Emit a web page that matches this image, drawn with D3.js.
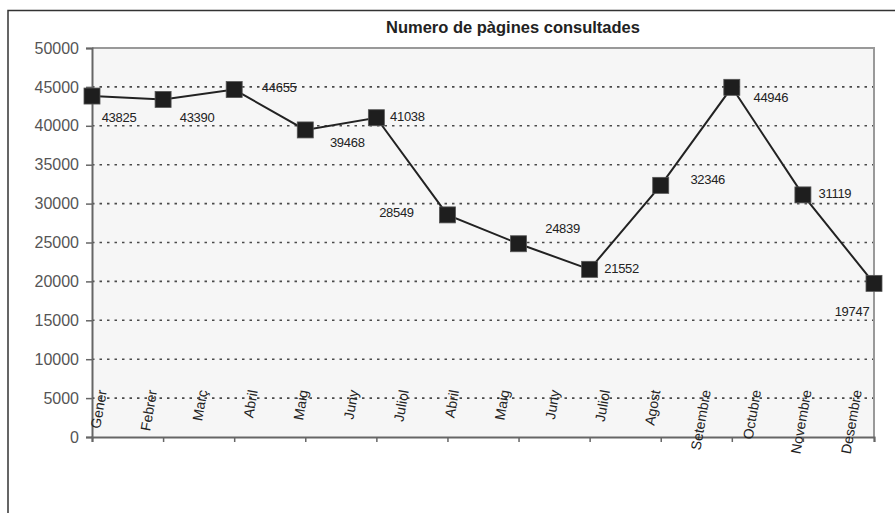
<!DOCTYPE html>
<html>
<head>
<meta charset="utf-8">
<script src="https://cdn.jsdelivr.net/npm/d3@7"></script>
<style>
  html, body { margin: 0; padding: 0; background: #fff; }
  svg { display: block; font-family: Arial, "Liberation Sans", sans-serif; }
</style>
</head>
<body>
<svg id="chart" width="895" height="513"></svg>
<script>
// ---- data ----
const title = "Numero de pàgines consultades";
const months = ["Gener","Febrer","Març","Abril","Maig","Juny","Juliol","Agost","Setembre","Octubre","Novembre","Desembre"];
const values = [43825, 43390, 44655, 39468, 41038, 28549, 24839, 21552, 32346, 44946, 31119, 19747];
const xLabels = ["Gener","Febrer","Març","Abril","Maig","Juny","Juliol","Abril","Maig","Juny","Juliol","Agost","Setembre","Octubre","Novembre","Desembre"];
const yTicks = [0, 5000, 10000, 15000, 20000, 25000, 30000, 35000, 40000, 45000, 50000];
// label offsets (style) for value labels, in px from the marker
const labelOffsets = [[27,21],[34,18],[45,-2],[42,13],[31,-1],[-51,-2],[44,-15],[32,-1],[47,-6],[39,10],[32,-1],[-22,28]];

// ---- layout ----
const W = 895, H = 513;
const plot = { left: 92, right: 874, top: 48, bottom: 437 };
const svg = d3.select("#chart");

// outer frame (extends beyond the visible area on right/bottom)
svg.append("rect").attr("x", 8).attr("y", 10.5).attr("width", W + 20).attr("height", H + 20)
  .attr("fill", "#fff").attr("stroke", "#333").attr("stroke-width", 1.5);

const x = d3.scalePoint().domain(d3.range(months.length)).range([plot.left, plot.right]);
const y = d3.scaleLinear().domain([0, 50000]).range([plot.bottom, plot.top]);
const xl = d3.scalePoint().domain(d3.range(xLabels.length)).range([plot.left + 10, plot.right - 17]);

// plot background
svg.append("rect").attr("x", plot.left).attr("y", plot.top)
  .attr("width", plot.right - plot.left).attr("height", plot.bottom - plot.top)
  .attr("fill", "#f6f6f6");

// gridlines
svg.append("g").selectAll("line").data(yTicks.filter(t => t > 0 && t < 50000)).join("line")
  .attr("x1", plot.left).attr("x2", plot.right)
  .attr("y1", d => y(d)).attr("y2", d => y(d))
  .attr("stroke", "#4a4a4a").attr("stroke-width", 1.6).attr("stroke-dasharray", "2.5,5");

// plot border top & right
svg.append("path")
  .attr("d", `M${plot.left},${plot.top}H${plot.right}V${plot.bottom}`)
  .attr("fill", "none").attr("stroke", "#999").attr("stroke-width", 2);

// y axis
const yAxis = svg.append("g").attr("transform", `translate(${plot.left},0)`)
  .call(d3.axisLeft(y).tickValues(yTicks).tickSize(6).tickPadding(7).tickFormat(d => d));
yAxis.select(".domain").attr("stroke", "#666").attr("stroke-width", 2);
yAxis.selectAll(".tick line").attr("stroke", "#666").attr("stroke-width", 1.5);
yAxis.selectAll(".tick text").attr("fill", "#555").style("font-size", "16px").style("font-family", "Arial, 'Liberation Sans', sans-serif");

// x axis
const xAxis = svg.append("g").attr("transform", `translate(0,${plot.bottom})`)
  .call(d3.axisBottom(x).tickSize(5).tickFormat(""));
xAxis.select(".domain").attr("stroke", "#666").attr("stroke-width", 2);
xAxis.selectAll(".tick line").attr("stroke", "#666").attr("stroke-width", 1.5);

// x labels (rotated)
svg.append("g").selectAll("text").data(xLabels).join("text")
  .attr("transform", (d, i) => `translate(${xl(i)},390) rotate(-80)`)
  .attr("text-anchor", "end").attr("dy", "0.35em")
  .attr("fill", "#222").style("font-size", "14px")
  .text(d => d);

// line
svg.append("path").datum(values)
  .attr("d", d3.line().x((d, i) => x(i)).y(d => y(d)))
  .attr("fill", "none").attr("stroke", "#222").attr("stroke-width", 2);

// markers
const ms = 16;
svg.append("g").selectAll("rect").data(values).join("rect")
  .attr("x", (d, i) => x(i) - ms / 2).attr("y", d => y(d) - ms / 2)
  .attr("width", ms).attr("height", ms)
  .attr("fill", "#1e1e1e").attr("stroke", "#555").attr("stroke-width", 0.8);

// value labels
svg.append("g").selectAll("text").data(values).join("text")
  .attr("x", (d, i) => x(i) + labelOffsets[i][0])
  .attr("y", (d, i) => y(d) + labelOffsets[i][1])
  .attr("text-anchor", "middle").attr("dy", "0.35em")
  .attr("fill", "#222").style("font-size", "13px").style("letter-spacing", "-0.3px")
  .text(d => d);

// title
svg.append("text").attr("x", 513).attr("y", 33).attr("text-anchor", "middle")
  .attr("fill", "#222").style("font-size", "16.5px").style("font-weight", "bold")
  .text(title);
</script>
</body>
</html>
